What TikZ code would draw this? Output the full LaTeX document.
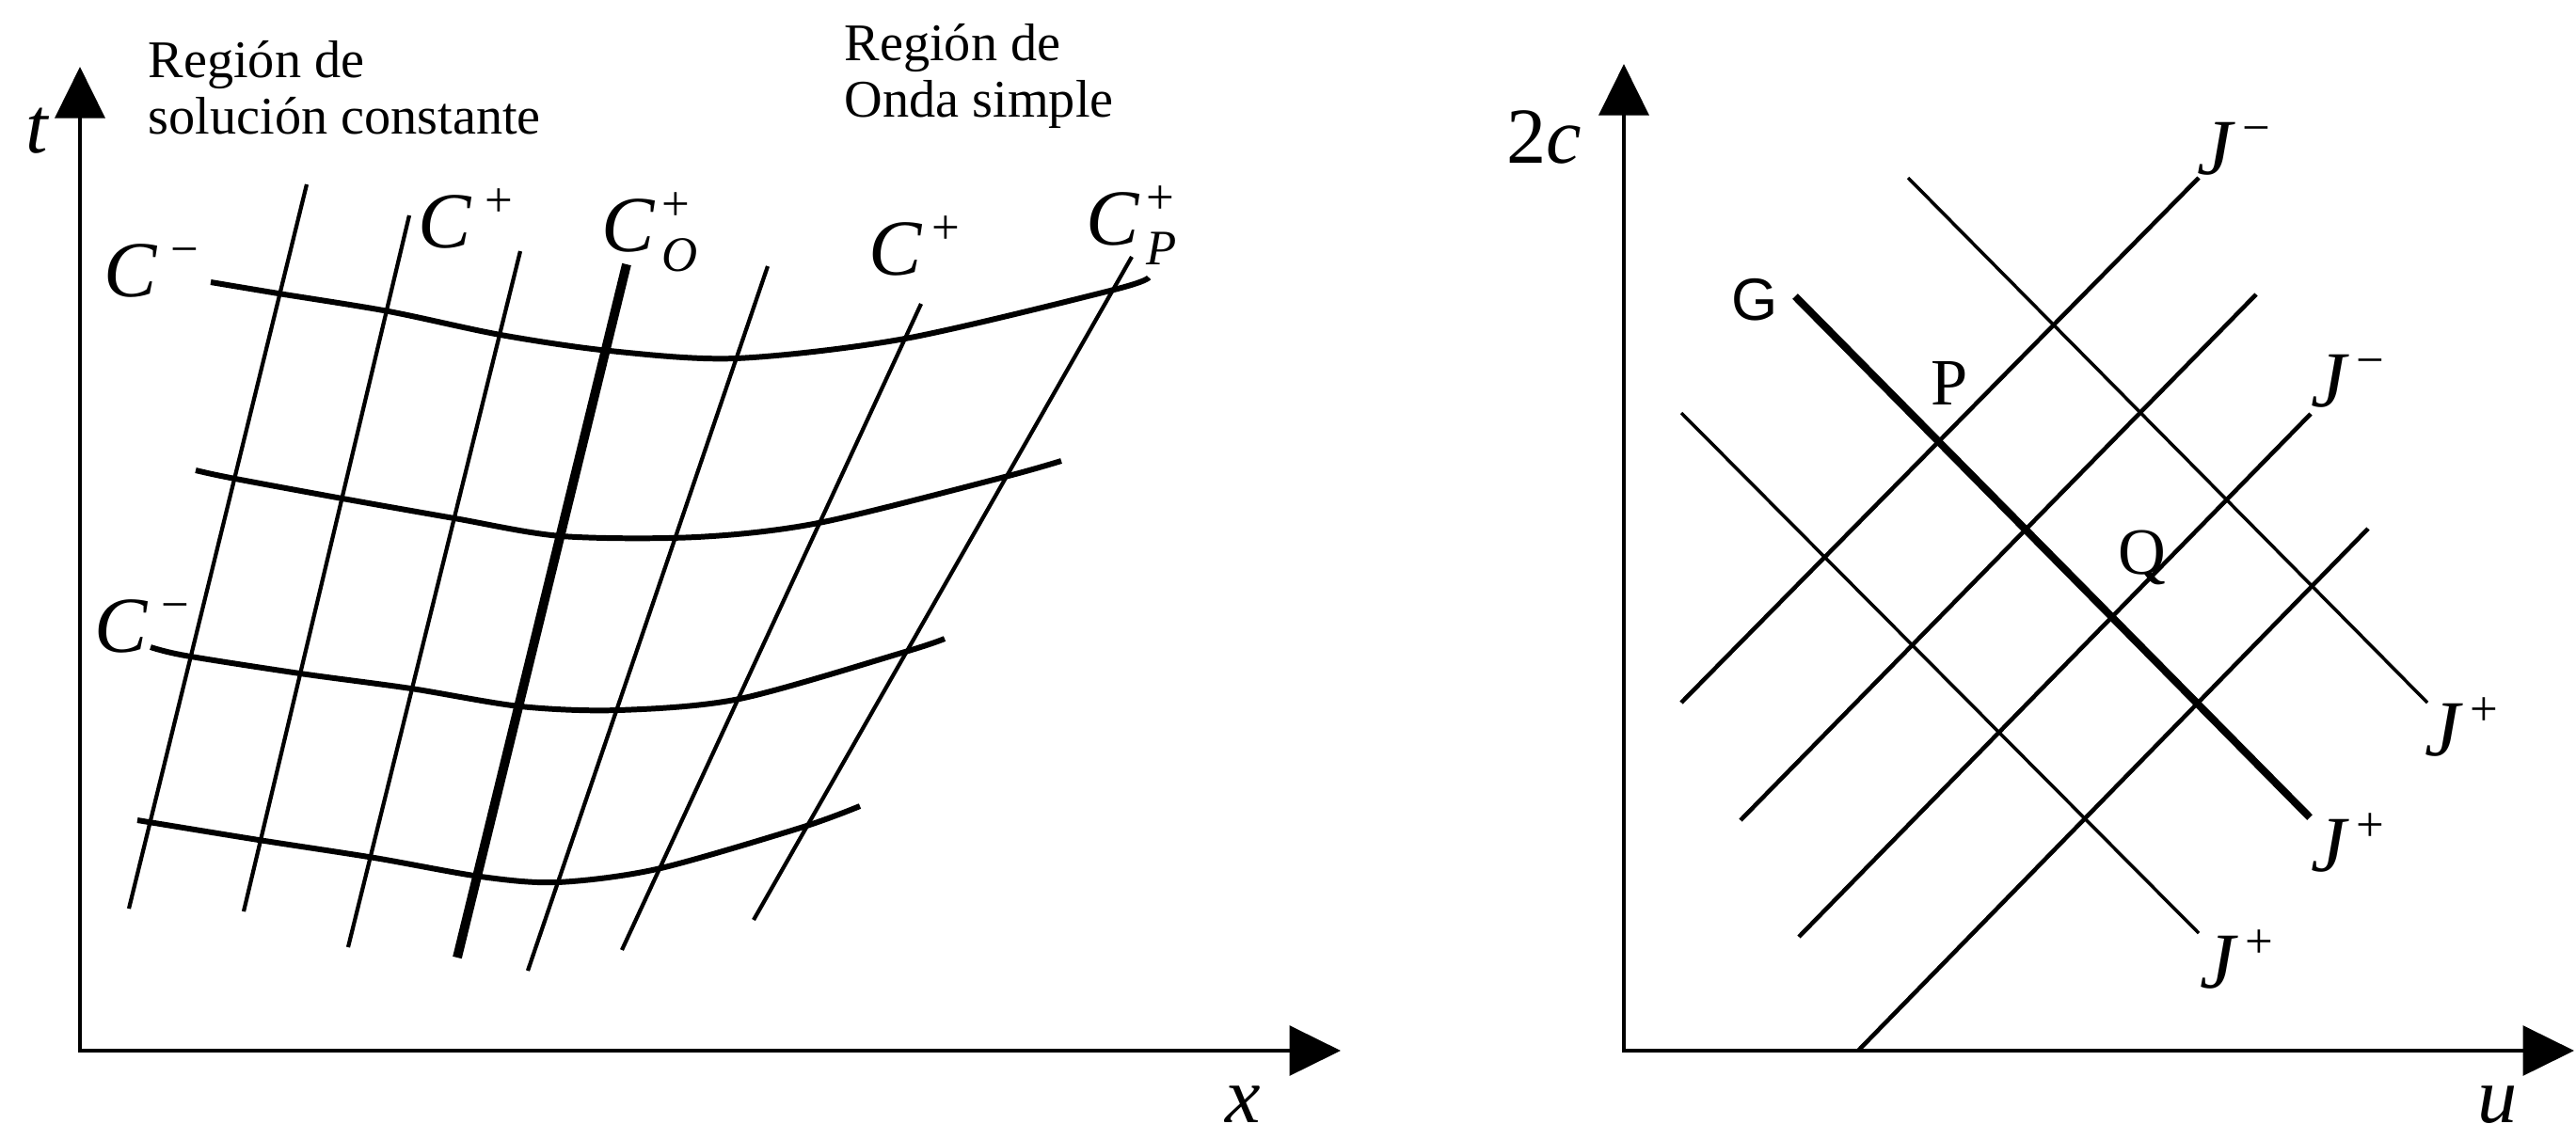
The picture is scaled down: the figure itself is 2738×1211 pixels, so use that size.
\documentclass[tikz,border=0pt]{standalone}
\usepackage{amsmath}
\usepackage{fontspec}
\setmainfont{Liberation Serif}
\setsansfont{Liberation Sans}
\usetikzlibrary{arrows.meta}
\newcommand{\chsup}[1]{\text{\fontsize{15}{15}\selectfont #1}}

\begin{document}
\begin{tikzpicture}[x=0.01cm, y=-0.01cm,
    axis/.style={line width=1.2pt, {Triangle[length=15.5pt,width=15pt]}-{Triangle[length=15.5pt,width=15pt]}},
    cplus/.style={line width=1.2pt},
    cminus/.style={line width=1.7pt},
    czero/.style={line width=2.8pt},
    jminus/.style={line width=1.3pt},
    jplus/.style={line width=1pt},
    gline/.style={line width=2.3pt},
    lbl/.style={inner sep=0pt, anchor=base west, font=\fontsize{24}{28}\selectfont},
    note/.style={inner sep=0pt, anchor=base west, align=left, font=\fontsize{16}{17}\selectfont},
    ptlbl/.style={inner sep=0pt, anchor=base west, font=\fontsize{20}{24}\selectfont}
  ]
  \useasboundingbox (0,0) rectangle (2738,1211);

  \draw[axis] (85,71) -- (85,1117) -- (1425,1117);
  \node[lbl] (tlab) at (27,162) {\textit{t}};
  \node[lbl] (xlab) at (1302,1193) {\textit{x}};
  \node[note] (reg1) at (157,142) {Región de\\solución constante};
  \node[note] (reg2) at (897,124) {Región de\\Onda simple};

  \foreach \xa/\ya/\xb/\yb in {326/196/137/966, 435/229/259/969, 553/267/370/1007,
      816/283/561/1032, 979/323/661/1010, 1203/273/801/978}
    \draw[cplus] (\xa,\ya) -- (\xb,\yb);
  \draw[czero] (666,281) -- (486,1018);

  \draw[cminus] plot[smooth, tension=0.5] coordinates {(224,300) (296,312) (413,331) (532,356)
    (648,373) (782,381) (962,360) (1184,308) (1221,295)};
  \draw[cminus] plot[smooth, tension=0.5] coordinates {(208,500) (245,508) (364,530) (483,551)
    (597,570) (740,571) (870,556) (1064,508) (1128,490)};
  \draw[cminus] plot[smooth, tension=0.5] coordinates {(160,688) (197,697) (319,716) (437,732)
    (553,751) (657,755) (786,743) (962,693) (1004,679)};
  \draw[cminus] plot[smooth, tension=0.5] coordinates {(146,872) (275,893) (398,912) (511,932)
    (592,938) (698,924) (851,880) (914,857)};

  \node[lbl] (cm1) at (110,315) {$\textit{C}^{\kern4pt\chsup{−}}$};
  \node[lbl] (cp1) at (444,263) {$\textit{C}^{\kern4pt\chsup{+}}$};
  \node[lbl] (co) at (639,267) {$\textit{C}^{\kern2pt\chsup{+}}_{\kern2pt\chsup{\itshape O}}$};
  \node[lbl] (cp2) at (923,292) {$\textit{C}^{\kern3pt\chsup{+}}$};
  \node[lbl] (cpp) at (1154,260) {$\textit{C}^{\kern2pt\chsup{+}}_{\kern2pt\chsup{\itshape P}}$};
  \node[lbl] (cm2) at (100,693) {$\textit{C}^{\kern4pt\chsup{−}}$};

  \draw[axis] (1726,68) -- (1726,1117) -- (2736,1117);
  \node[lbl] (clab) at (1601,173) {2\textit{c}};
  \node[lbl] (ulab) at (2633,1193) {\textit{u}};

  \draw[jminus] (1787,747) -- (2337,189);
  \draw[jminus] (1850,872) -- (2398,313);
  \draw[jminus] (1912,996) -- (2456,440);
  \draw[jminus] (1975,1117) -- (2517,562);
  \draw[jplus] (2028,189) -- (2580,747);
  \draw[jplus] (1787,439) -- (2337,992);
  \draw[gline] (1908,315) -- (2455,869);

  \node[lbl] (jm1) at (2335,185) {$\textit{J}^{\kern3pt\chsup{−}}$};
  \node[lbl] (jm2) at (2456,432) {$\textit{J}^{\kern3pt\chsup{−}}$};
  \node[lbl] (jp1) at (2577,803) {$\textit{J}^{\kern3pt\chsup{+}}$};
  \node[lbl] (jp2) at (2456,926) {$\textit{J}^{\kern3pt\chsup{+}}$};
  \node[lbl] (jp3) at (2338,1050) {$\textit{J}^{\kern3pt\chsup{+}}$};
  \node[ptlbl, font=\sffamily\fontsize{18}{20}\selectfont] (glab) at (1840,340) {G};
  \node[ptlbl] (plab) at (2052,430) {P};
  \node[ptlbl] (qlab) at (2251,610) {Q};
\end{tikzpicture}
\end{document}
